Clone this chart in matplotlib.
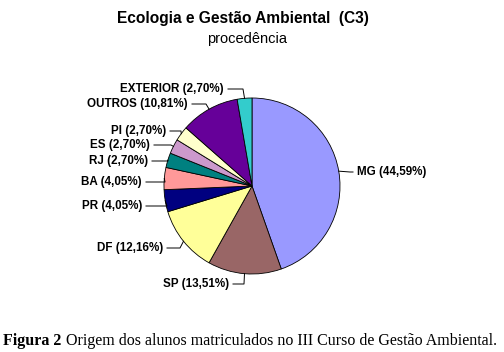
import numpy as np
import matplotlib.pyplot as plt

# data
states = ['MG', 'SP', 'DF', 'PR', 'BA', 'RJ', 'ES', 'PI', 'OUTROS', 'EXTERIOR']
shares = [44.59, 13.51, 12.16, 4.05, 4.05, 2.70, 2.70, 2.70, 10.81, 2.70]
colors = ['#9999FF', '#996666', '#FFFF99', '#000080', '#FF9999',
          '#008080', '#CC99CC', '#FFFFCC', '#660099', '#33CCCC']

# layout (pixel coords, y from bottom); text anchor and elbow x for each label
H = 352
cx, cy, r = 252, H - 186, 88
label_pos = {
    'MG': (357, H - 172, 'left', 350),
    'SP': (229, H - 284, 'right', 244),
    'DF': (163, H - 248, 'right', 180),
    'PR': (142, H - 206, 'right', 167),
    'BA': (142, H - 182, 'right', 165),
    'RJ': (148, H - 161, 'right', 168),
    'ES': (150, H - 145, 'right', 171),
    'PI': (166, H - 131, 'right', 181),
    'OUTROS': (188, H - 104, 'right', 206),
    'EXTERIOR': (224, H - 89, 'right', 243),
}

fig = plt.figure(figsize=(5.04, 3.52), dpi=100)
ax = fig.add_axes((0, 0, 1, 1))

wedges, _ = ax.pie(shares, colors=colors, startangle=90, counterclock=False,
                   center=(cx, cy), radius=r,
                   wedgeprops={'edgecolor': 'black', 'linewidth': 0.6})
ax.set_xlim(0, 504)
ax.set_ylim(0, H)
ax.set_aspect('auto')
ax.axis('off')

for w, name, val in zip(wedges, states, shares):
    ang = np.deg2rad((w.theta1 + w.theta2) / 2)
    px, py = cx + r * np.cos(ang), cy + r * np.sin(ang)
    tx, ty, ha, ex = label_pos[name]
    txt = f'{name} ({val:.2f}%)'.replace('.', ',')
    ax.text(tx, ty, txt, ha=ha, va='center', fontsize=8.4, fontweight='bold',
            family='Liberation Sans')
    if ha == 'right':
        ax.plot([tx + 4, ex, px], [ty, ty, py], color='black', lw=0.7)
    else:
        ax.plot([px, ex, tx - 4], [py, ty, ty], color='black', lw=0.7)

fig.text(243 / 504, 1 - 18 / H, 'Ecologia e Gestão Ambiental  (C3)', ha='center', va='center',
         fontsize=11.2, fontweight='bold', family='Liberation Sans')
fig.text(247 / 504, 1 - 39 / H, 'procedência', ha='center', va='center',
         fontsize=10.5, family='Liberation Sans')

# caption
bold = fig.text(3 / 504, 1 - 341 / H, 'Figura 2', ha='left', va='center',
                fontsize=11.5, fontweight='bold', family='Liberation Serif')
fig.canvas.draw()
x1 = bold.get_window_extent().x1
fig.text((x1 + 5) / 504, 1 - 341 / H,
         'Origem dos alunos matriculados no III Curso de Gestão Ambiental.',
         ha='left', va='center', fontsize=11.5, family='Liberation Serif')

fig.savefig('out.png', dpi=100)
